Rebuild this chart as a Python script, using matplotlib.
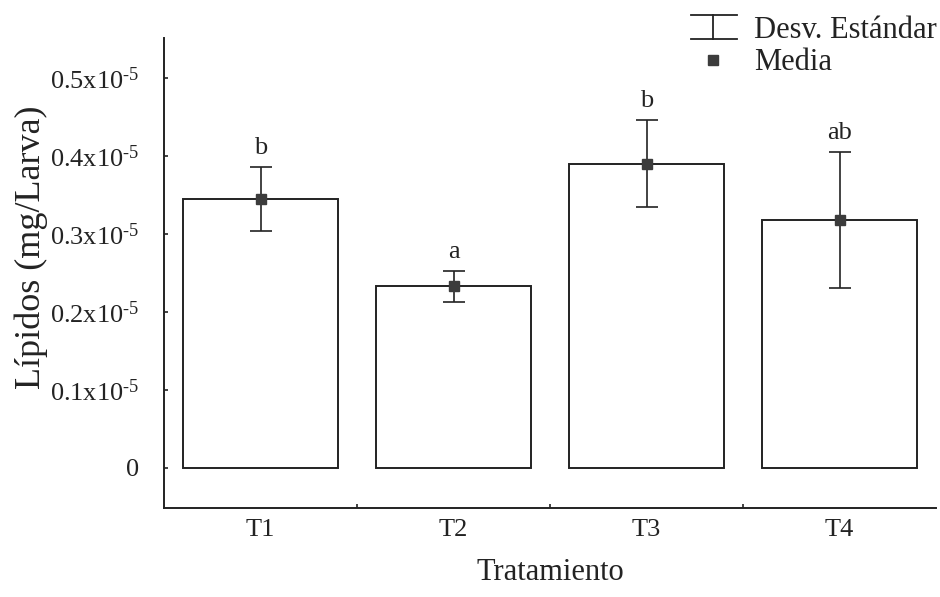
import numpy as np
import matplotlib
matplotlib.use("Agg")
import matplotlib.pyplot as plt
from matplotlib.lines import Line2D
from matplotlib.ticker import FixedLocator, FuncFormatter

# lipid content per larva, mean and standard deviation per treatment
treatments = ["T1", "T2", "T3", "T4"]
lipid_mean = [0.345e-5, 0.233e-5, 0.390e-5, 0.318e-5]
lipid_sd = [0.041e-5, 0.020e-5, 0.056e-5, 0.087e-5]
groups = ["b", "a", "b", "ab"]
y_ticks = [0.0, 0.1e-5, 0.2e-5, 0.3e-5, 0.4e-5, 0.5e-5]

plt.rcParams["font.family"] = "Liberation Serif"
plt.rcParams["mathtext.fontset"] = "custom"
plt.rcParams["mathtext.rm"] = "Liberation Serif"
plt.rcParams["mathtext.default"] = "regular"

INK = "#232323"
MARK = "#3c3c3c"
W, H = 940, 597


def fig_xy(px, py):
    return px / W, 1 - py / H


def sci_label(v, pos):
    if abs(v) < 1e-12:
        return "0"
    # plain hyphen in the exponent, not the long math minus
    return r"%.1fx10$^{\text{-}5}$" % (v * 1e5)


fig = plt.figure(figsize=(W / 100, H / 100), dpi=100)
ax = fig.add_axes([164 / W, 89 / H, 772 / W, 470 / H])

x = np.arange(len(treatments))
ax.bar(x, lipid_mean, width=0.8, color="white", edgecolor=INK, linewidth=1.4, zorder=2)
ax.errorbar(x, lipid_mean, yerr=lipid_sd, fmt="s", ms=7.5, mfc=MARK, mec=MARK,
            ecolor=INK, elinewidth=1.2, capsize=8, capthick=1.2, zorder=3)

for xi, m, s, g in zip(x, lipid_mean, lipid_sd, groups):
    ax.annotate(g, (xi, m + s), xytext=(0, 9), textcoords="offset points",
                ha="center", va="baseline", fontsize=19, color=INK)

ax.set_xlim(-0.5, 3.5)
ax.set_ylim(-0.0513e-5, 0.551e-5)

for side in ["top", "right"]:
    ax.spines[side].set_visible(False)
for side in ["left", "bottom"]:
    ax.spines[side].set_linewidth(1.4)
    ax.spines[side].set_color(INK)

ax.yaxis.set_major_locator(FixedLocator(y_ticks))
ax.yaxis.set_major_formatter(FuncFormatter(sci_label))
ax.tick_params(axis="y", direction="in", length=3, width=1.2, color=INK,
               pad=18, labelsize=19, labelcolor=INK)

# small ticks between groups, labels centred under each bar
ax.set_xticks([0.5, 1.5, 2.5])
ax.set_xticklabels([])
ax.set_xticks(x, minor=True)
ax.set_xticklabels(treatments, minor=True)
ax.tick_params(axis="x", which="major", direction="in", length=3, width=1.2, color=INK)
ax.tick_params(axis="x", which="minor", length=0, pad=8, labelsize=19, labelcolor=INK)

ax.set_xlabel("Tratamiento", fontsize=22, color=INK, labelpad=12)
ax.set_ylabel("Lípidos (mg/Larva)", fontsize=26, color=INK)
ax.yaxis.set_label_coords(-0.150, 0.555)

# key in the top right corner
for (x0, y0), (x1, y1) in [((691, 15), (737, 15)), ((691, 39), (737, 39)), ((713, 15), (713, 39))]:
    a, b = fig_xy(x0, y0)
    c, d = fig_xy(x1, y1)
    fig.add_artist(Line2D([a, c], [b, d], transform=fig.transFigure, color=INK, lw=1.3))
mx, my = fig_xy(713, 60)
fig.add_artist(Line2D([mx], [my], transform=fig.transFigure, marker="s", ms=7,
                      mfc=MARK, mec=MARK, ls="none"))
tx, ty = fig_xy(754, 38)
fig.text(tx, ty, "Desv. Estándar", fontsize=22, color=INK, va="baseline")
tx, ty = fig_xy(754, 70)
fig.text(tx, ty, "Media", fontsize=22, color=INK, va="baseline")

fig.savefig("out.png", dpi=100)
